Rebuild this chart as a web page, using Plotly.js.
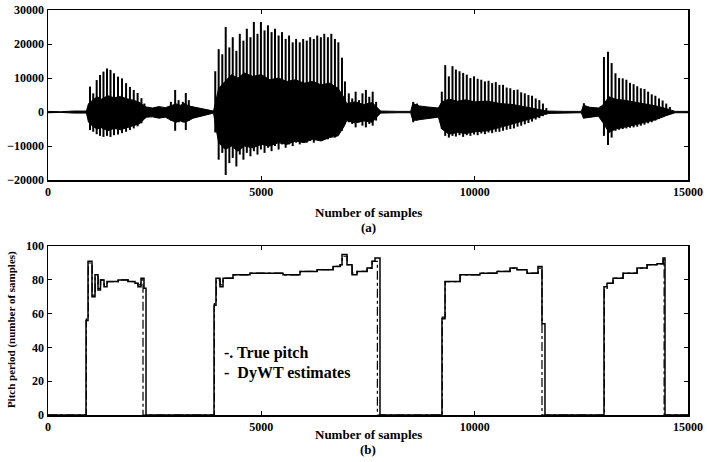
<!DOCTYPE html>
<html>
<head>
<meta charset="utf-8">
<script src="https://cdn.plot.ly/plotly-3.0.1.min.js"></script>
<style>html,body{margin:0;padding:0;background:#fff;}#chart{width:707px;height:462px;}</style>
</head>
<body>
<div id="chart"></div>
<script>
// ---------- (a) speech waveform: pitch pulses (position, positive peak, negative peak) ----------
const pulseX = [
  984, 1060, 1141, 1220, 1300, 1383, 1465, 1547, 1641, 1735, 1830, 1920, 2010, 2100, 2190, 2260,
  2880, 2980, 3060, 3160, 3230, 3300,
  3920, 4000, 4085, 4165, 4250, 4330, 4415, 4495, 4580, 4660, 4745, 4825, 4910, 4990, 5075, 5155,
  5240, 5320, 5405, 5485, 5570, 5650, 5735, 5815, 5900, 5980, 6065, 6145, 6230, 6310, 6395, 6475,
  6560, 6640, 6725, 6805, 6890, 6960,
  7050, 7130, 7210, 7290, 7370, 7450, 7530, 7610, 7690,
  8560, 8650,
  9230, 9310, 9395, 9480, 9560, 9645, 9730, 9815, 9900, 9985, 10070, 10155, 10240, 10325, 10410,
  10495, 10580, 10665, 10750, 10835, 10920, 11005, 11090, 11175, 11260, 11345, 11430, 11515, 11600, 11680,
  12560,
  13030, 13125, 13210, 13300, 13385, 13470, 13555, 13640, 13725, 13810, 13895, 13980, 14065, 14150,
  14235, 14320, 14405, 14490, 14575
];
const pulseTop = [
  7500, 5500, 9400, 10900, 11900, 12800, 12400, 11400, 10400, 9900, 8500, 7400, 6500, 5600, 4100, 2500,
  3000, 6500, 3500, 3000, 5600, 3500,
  12000, 18500, 17000, 25000, 19000, 22000, 18000, 23000, 21000, 24500, 22000, 26500, 23000, 26500, 24000, 25500,
  23500, 24500, 22500, 23500, 21500, 22500, 20500, 21500, 20500, 21500, 21000, 22000, 21500, 22500, 22000, 23000,
  22000, 23000, 21500, 20500, 16000, 9000,
  5500, 4000, 6000, 3500, 5500, 6500, 4500, 6000, 3000,
  3000, 2500,
  6000, 13800, 10500, 13500, 12500, 12000, 11500, 11000, 10000, 10500, 9800, 9500, 9000, 9200, 8500,
  8800, 8000, 8000, 7200, 7000, 6500, 6600, 5800, 5500, 5000, 4800, 4000, 3500, 2500, 1200,
  2600,
  16200, 17700, 14400, 11400, 10000, 9900, 9500, 8600, 8200, 7600, 7000, 6800, 6000, 5200,
  4800, 4000, 3400, 2500, 1500
];
const pulseBottom = [
  -5300, -5800, -6500, -7000, -7300, -7000, -7300, -6800, -6600, -6200, -5800, -5300, -4800, -4200, -3300, -2000,
  -2500, -5500, -3000, -3000, -5300, -2500,
  -6000, -14000, -12000, -18500, -15000, -13500, -16000, -12500, -14000, -12000, -13000, -11500, -12500, -11000, -12000, -10500,
  -11500, -10000, -11000, -9500, -10500, -9500, -10000, -9000, -9500, -8500, -9000, -8500, -9000, -8000, -8500, -7500,
  -8000, -7000, -7500, -6500, -5500, -3500,
  -3000, -3500, -4500, -3000, -4000, -4500, -3500, -4000, -2500,
  -3000, -2500,
  -5000, -7000, -7500, -7000, -7200, -6800, -7300, -6800, -7000, -6600, -6800, -6300, -6500, -6000, -6200,
  -5800, -5800, -5500, -5200, -5000, -4800, -4300, -4000, -3600, -3200, -2800, -2200, -1800, -1200, -800,
  -1800,
  -7000, -9700, -7500, -5500, -5200, -5000, -4800, -4600, -4500, -4300, -4000, -3700, -3300, -3000,
  -2500, -2000, -1500, -1000, -600
];
// dense core of the waveform (upper / lower envelope)
const coreX  = [0, 300, 600, 900, 950, 1050, 1150, 1250, 1400, 1550, 1700, 1850, 2000, 2150, 2300,
  2450, 2600, 2750, 2900, 3000, 3100, 3200, 3300, 3400, 3500, 3650, 3800, 3880,
  3940, 4000, 4150, 4300, 4450, 4600, 4800, 5000, 5200, 5400, 5600, 5800, 6000, 6200, 6400, 6600, 6800, 6950,
  7000, 7200, 7400, 7600, 7700, 7800, 8200, 8500, 8550, 8700, 8900, 9150,
  9230, 9400, 9600, 9800, 10000, 10300, 10600, 10900, 11200, 11450, 11700, 12100, 12500, 12550, 12700, 12900,
  13000, 13150, 13300, 13500, 13750, 14000, 14250, 14500, 14700, 15000];
const coreUp = [200, 100, 300, 300, 2500, 3500, 4500, 3800, 4800, 4200, 4600, 3900, 3500, 2800, 1500,
  1200, 1600, 1300, 2000, 2400, 2000, 2500, 1800, 1500, 1200, 900, 500, 300,
  4000, 7000, 9000, 11000, 10000, 11500, 10500, 11000, 9500, 10000, 9000, 9500, 8500, 9000, 8000, 8500, 7000, 4000,
  2500, 3000, 2200, 2800, 1500, 300, 200, 200, 2500, 1800, 1500, 1200,
  3000, 3800, 3200, 3600, 3000, 3200, 2500, 2200, 1500, 900, 300, 200, 200, 2000, 1400, 1200,
  2000, 4500, 3800, 3500, 3000, 2500, 1800, 1000, 200, 200];
const coreLo = [-200, -100, -300, -300, -3000, -4200, -5000, -4600, -5500, -4800, -5200, -4600, -4200, -3400, -1500,
  -1400, -1800, -1500, -2500, -3000, -2600, -3000, -2500, -1800, -1500, -1000, -500, -300,
  -5000, -9000, -11000, -10000, -11500, -10000, -10500, -9500, -10000, -9000, -9500, -8500, -9000, -8000, -8500, -7500, -7000, -4000,
  -2500, -3200, -2600, -3000, -1500, -300, -200, -200, -2500, -2200, -2000, -1500,
  -5000, -6500, -6000, -6300, -5800, -5500, -4500, -3500, -2500, -1500, -400, -200, -200, -1800, -1500, -1200,
  -3000, -6000, -5000, -4500, -3800, -3000, -2200, -1000, -200, -200];

// ---------- (b) pitch period ----------
const dywtX = [0, 891, 921, 938, 1031, 1055, 1102, 1172, 1230, 1313, 1383, 1641, 1875, 2039, 2109, 2180, 2250, 2297,
  3891, 3937, 4031, 4102, 4336, 4734, 5133, 5508, 5906, 6305, 6680, 6844, 6891, 7008, 7031, 7125, 7242, 7477, 7594, 7664, 7781,
  9234, 9305, 9656, 10125, 10523, 10828, 10992, 11227, 11484, 11578, 11648,
  13031, 13102, 13242, 13477, 13805, 14039, 14273, 14414, 14461, 15000];
const dywtY = [0, 56, 56, 91, 70, 70, 83, 74, 80, 76, 79, 80, 79, 78, 76, 81, 75, 0,
  65, 81, 76, 81, 83, 84, 84, 83, 85, 86, 88, 89, 95, 89, 89, 83, 85, 87, 91, 93, 0,
  57, 79, 83, 84, 85, 87, 86, 84, 88, 54, 0,
  76, 78, 81, 84, 87, 89, 89.5, 93, 0, 0];
const trueX = [0, 900, 930, 945, 1035, 1060, 1105, 1175, 1235, 1315, 1390, 1645, 1880, 2040, 2110, 2175, 2227,
  3900, 3945, 4035, 4105, 4340, 4740, 5140, 5510, 5910, 6310, 6685, 6850, 6895, 7010, 7035, 7130, 7245, 7480, 7598, 7720,
  9240, 9310, 9660, 10130, 10530, 10830, 10995, 11230, 11490, 11578,
  13040, 13105, 13245, 13480, 13810, 14045, 14275, 14420, 14440, 15000];
const trueY = [0, 57, 57, 90, 71, 71, 82, 75, 80, 77, 79, 80, 79, 78, 77, 80, 0,
  66, 80, 77, 81, 83, 84, 84, 83, 85, 86, 88, 89, 94, 89, 89, 84, 85, 87, 91, 0,
  58, 79, 83, 84, 85, 87, 86, 84, 87, 0,
  75, 78, 81, 84, 87, 89, 89.5, 92, 0, 0];

// build spike segments from the pulse table
const spikeX = [], spikeY = [];
pulseX.forEach((p, i) => { spikeX.push(p, p, null); spikeY.push(pulseBottom[i], pulseTop[i], null); });

const serif = 'Liberation Serif, Times New Roman, serif';
const traces = [
  {x: coreX, y: coreUp, type: 'scatter', mode: 'lines', line: {color: '#000', width: 1}, xaxis: 'x', yaxis: 'y', hoverinfo: 'skip'},
  {x: coreX, y: coreLo, type: 'scatter', mode: 'lines', fill: 'tonexty', fillcolor: '#000', line: {color: '#000', width: 1}, xaxis: 'x', yaxis: 'y', hoverinfo: 'skip'},
  {x: spikeX, y: spikeY, type: 'scatter', mode: 'lines', connectgaps: false, line: {color: '#000', width: 2}, xaxis: 'x', yaxis: 'y'},
  {x: trueX, y: trueY, name: 'True pitch', type: 'scatter', mode: 'lines', line: {color: '#000', width: 1.2, dash: 'dashdot', shape: 'hv'}, xaxis: 'x2', yaxis: 'y2'},
  {x: dywtX, y: dywtY, name: 'DyWT estimates', type: 'scatter', mode: 'lines', line: {color: '#000', width: 1.5, shape: 'hv'}, xaxis: 'x2', yaxis: 'y2'}
];

const axCommon = {
  showline: true, mirror: 'ticks', linecolor: '#000', linewidth: 1.5,
  ticks: 'inside', ticklen: 4, tickcolor: '#000', tickwidth: 1,
  showgrid: false, zeroline: false, tickformat: 'd',
  tickfont: {family: serif, size: 12, color: '#000', weight: 'bold'}
};
const annFont = (s) => ({family: serif, size: s, color: '#000', weight: 'bold'});
const layout = {
  width: 707, height: 462,
  margin: {l: 48, r: 19, t: 10, b: 47},
  paper_bgcolor: '#fff', plot_bgcolor: '#fff',
  showlegend: false,
  xaxis: Object.assign({}, axCommon, {domain: [0, 1], range: [0, 15000], tickvals: [0, 5000, 10000, 15000], anchor: 'y'}),
  yaxis: Object.assign({}, axCommon, {domain: [0.58, 1], range: [-20000, 30000], tickvals: [-20000, -10000, 0, 10000, 20000, 30000], anchor: 'x'}),
  xaxis2: Object.assign({}, axCommon, {domain: [0, 1], range: [0, 15000], tickvals: [0, 5000, 10000, 15000], anchor: 'y2'}),
  yaxis2: Object.assign({}, axCommon, {domain: [0, 0.417], range: [0, 100], tickvals: [0, 20, 40, 60, 80, 100], anchor: 'x2'}),
  annotations: [
    {text: 'Number of samples', xref: 'paper', yref: 'paper', x: 0.5, y: 0.501, xanchor: 'center', yanchor: 'middle', showarrow: false, font: annFont(13)},
    {text: '(a)', xref: 'paper', yref: 'paper', x: 0.5, y: 0.464, xanchor: 'center', yanchor: 'middle', showarrow: false, font: annFont(13)},
    {text: 'Number of samples', xref: 'paper', yref: 'paper', x: 0.5, y: -0.049, xanchor: 'center', yanchor: 'middle', showarrow: false, font: annFont(13)},
    {text: '(b)', xref: 'paper', yref: 'paper', x: 0.5, y: -0.086, xanchor: 'center', yanchor: 'middle', showarrow: false, font: annFont(13)},
    {text: 'Pitch period (number of samples)', xref: 'paper', yref: 'paper', x: -0.056, y: 0.21, xanchor: 'center', yanchor: 'middle', textangle: -90, showarrow: false, font: annFont(11)},
    {text: '-. True pitch', xref: 'paper', yref: 'paper', x: 0.272, y: 0.153, xanchor: 'left', yanchor: 'middle', showarrow: false, font: annFont(16)},
    {text: '-  DyWT estimates', xref: 'paper', yref: 'paper', x: 0.272, y: 0.104, xanchor: 'left', yanchor: 'middle', showarrow: false, font: annFont(16)}
  ]
};
Plotly.newPlot('chart', traces, layout, {staticPlot: true, displayModeBar: false});
</script>
</body>
</html>
